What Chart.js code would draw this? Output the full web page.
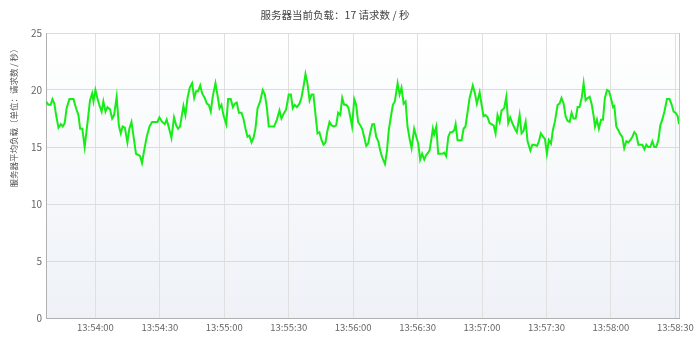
<!DOCTYPE html>
<html><head><meta charset="utf-8">
<script src="https://cdn.jsdelivr.net/npm/chart.js@4.4.1/dist/chart.umd.min.js"></script>
<style>html,body{margin:0;padding:0;background:#fff}#wrap{width:700px;height:340px}</style>
</head><body><div id="wrap"><canvas id="c" width="700" height="340"></canvas></div>
<script>
const chartTitle = '服务器当前负载：17 请求数 / 秒';
const yAxisTitle = '服务器平均负载（单位：请求数 / 秒）';
const tickSeconds = [0, 30, 60, 90, 120, 150, 180, 210, 240, 270];
const tickLabels = ['13:54:00','13:54:30','13:55:00','13:55:30','13:56:00','13:56:30','13:57:00','13:57:30','13:58:00','13:58:30'];
const yTicks = [0, 5, 10, 15, 20, 25];

// seconds relative to 13:54:00
const seconds = [
-23,-21.9,-20.8,-20,-19.1,-18.3,-17.2,-16.1,-15.2,-14.3,-13.4,-12.1,-10.2,-9,-7.9,-7.1,-6.1,-5,-3.7,-2.5,-1.5,-0.9,0,0.9,1.8,2.9,3.7,4.7,5.6,6.8,7.8,8.7,9.9,10.9,11.8,12.7,13.7,14.9,15.8,16.8,18,18.9,20,20.8,21.7,22.7,23.9,25.2,26.4,27.7,28.9,29.8,31.1,32.3,33.2,34.5,35.4,
36.6,37.6,38.5,39.4,41,41.9,42.9,43.9,45,46,46.9,47.8,48.8,49.7,50.9,51.9,52.8,53.7,54.6,55.9,56.8,57.8,58.7,59.6,60.9,61.8,63,64,64.9,65.8,66.8,68,68.9,69.9,70.8,71.7,72.7,73.6,74.5,75.5,76.7,77.9,78.9,79.8,80.7,82,83.2,84.5,85.7,86.6,87.6,88.8,90,91,91.9,92.8,93.8,95,95.9,
96.9,97.8,98.7,99.7,100.6,101.5,102.5,103.4,104.3,105.3,106.2,107.1,108.1,109,109.9,111.2,112.1,113,114,114.9,115.8,116.8,117.7,118.6,119.5,120.5,121.4,122.3,123.3,124.2,125.1,126.1,127,127.9,128.9,129.8,130.7,131.7,132.6,133.5,134.8,135.7,136.6,137.6,138.5,139.4,140.7,141.6,142.5,143.5,144.4,145.3,146.3,147.2,148.4,149.4,150.3,151.2,152.1,153.1,154,154.9,
155.6,156.5,157.1,157.7,158.7,159.6,160.5,161.5,162.4,163.3,164.3,165.2,166.1,167.1,167.7,168.6,169.5,170.5,171.4,172.3,173.3,174.2,175.7,176.7,177.6,178.9,179.8,180.7,181.6,182.6,183.5,184.4,185.4,186.3,187.2,188.2,189.1,190.3,191.3,192.2,193.1,194.1,195.3,196.2,197.5,198.4,199.3,200.3,201.2,202.5,203.4,204.3,205.6,206.5,207.4,208.4,209.3,210.2,211.1,212.1,213,213.9,215.2,
216.1,217,218,218.9,219.8,220.8,221.7,222.6,223.6,224.5,225.4,226.4,227.3,228.2,229.2,230.1,231,231.9,232.6,233.5,234.4,235.4,236.3,237.2,238.2,239.1,240,241,241.6,242.5,243.4,244.4,245.3,246.2,247.2,248.1,249,250,250.9,251.8,252.8,253.7,254.6,255.6,256.5,257.4,258.3,259.3,260.2,261.1,262.1,263,263.9,264.9,266.1,267.3,268.3,269.2,270.1,271.1,271.7
];
const load = [
19.0,18.7,18.7,19.2,18.8,17.8,16.7,17.0,16.8,17.1,18.4,19.2,19.2,18.4,17.8,16.6,16.6,15.0,17.1,19.1,19.7,19.0,20.0,19.3,18.7,18.1,19.0,18.1,18.5,18.3,17.5,17.8,19.4,16.9,16.2,16.8,16.7,15.4,16.6,17.2,15.6,14.4,14.3,14.2,13.6,14.7,15.9,16.8,17.2,17.2,17.2,17.6,17.2,17.0,17.4,16.5,15.8,
17.6,16.9,16.6,16.8,18.6,17.8,19.3,20.2,20.6,19.3,19.9,19.9,20.4,19.7,19.3,18.8,18.7,18.1,19.4,20.6,19.6,18.4,18.7,17.8,17.0,19.2,19.2,18.5,18.8,18.9,18.0,18.0,17.5,16.6,15.9,16.0,15.4,15.8,16.6,18.4,19.0,20.0,19.6,18.5,16.8,16.8,16.8,17.4,18.2,17.5,17.9,18.3,19.6,19.6,18.4,18.7,18.5,18.8,19.3,
20.3,21.4,20.6,19.1,19.6,19.6,17.8,16.2,16.3,15.6,15.2,15.4,16.5,17.2,16.9,16.8,16.9,18.0,17.8,19.3,18.7,18.7,18.5,17.7,16.8,19.2,18.7,17.2,16.9,16.6,15.9,15.1,15.3,16.2,17.0,17.0,15.9,15.5,14.7,14.1,13.5,14.6,16.5,17.7,18.7,19.0,20.6,19.6,20.2,18.8,19.0,16.8,15.7,14.9,16.6,15.9,15.3,13.9,14.4,13.9,14.3,14.5,
14.7,15.8,16.6,16.1,16.8,14.4,14.4,14.4,14.5,14.2,15.9,16.3,16.3,16.5,17.0,15.6,15.6,15.6,16.6,16.8,18.1,19.3,20.4,19.7,18.8,19.8,18.7,17.7,17.8,17.6,17.1,17.0,16.9,16.2,17.8,17.2,18.2,18.4,19.4,17.1,17.6,17.1,16.6,16.3,17.8,16.2,16.4,17.2,15.5,14.7,15.2,15.2,15.1,15.5,16.2,15.9,15.7,14.4,15.6,15.3,16.5,17.2,18.7,
18.8,19.3,18.8,17.7,17.3,17.2,18.0,17.5,17.5,18.5,18.5,19.3,20.6,19.1,19.3,19.4,18.8,17.8,16.8,17.4,16.6,17.4,17.4,19.3,20.0,19.9,19.3,18.5,18.6,16.8,16.5,16.1,15.9,14.9,15.5,15.4,15.6,15.9,16.3,16.1,15.2,15.2,15.2,14.8,15.2,15.0,15.0,15.5,15.0,15.0,15.6,16.9,17.4,18.1,19.2,19.2,18.7,18.1,18.0,17.7,17.0
];

const FONT = '"Noto Sans CJK SC", "Noto Sans", sans-serif';
Chart.defaults.font.family = FONT;

const decor = {
  id: 'decor',
  beforeDraw(chart) {
    const {ctx, chartArea: a} = chart;
    const g = ctx.createLinearGradient(0, a.top, 0, a.bottom);
    g.addColorStop(0, '#ffffff');
    g.addColorStop(1, '#eef2f7');
    ctx.save();
    ctx.fillStyle = g;
    ctx.fillRect(a.left, a.top, a.right - a.left, a.bottom - a.top);
    ctx.restore();
  },
  afterDraw(chart) {
    const {ctx, chartArea: a} = chart;
    ctx.save();
    ctx.strokeStyle = '#c8c8c8';
    ctx.lineWidth = 1;
    ctx.beginPath();
    ctx.moveTo(Math.round(a.right) + 0.5, a.top);
    ctx.lineTo(Math.round(a.right) + 0.5, a.bottom);
    ctx.stroke();
    ctx.fillStyle = '#444';
    ctx.font = '10.5px ' + FONT;
    ctx.textAlign = 'center';
    ctx.textBaseline = 'middle';
    ctx.fillText(chartTitle, 335, 15);
    ctx.translate(14, 116);
    ctx.rotate(-Math.PI / 2);
    ctx.fillStyle = '#555';
    ctx.font = '8.5px ' + FONT;
    ctx.fillText(yAxisTitle, 0, 0);
    ctx.restore();
  }
};

new Chart(document.getElementById('c'), {
  type: 'line',
  data: {
    datasets: [{
      data: seconds.map((s, i) => ({x: s, y: load[i]})),
      borderColor: '#16ec16',
      borderWidth: 2,
      pointRadius: 0,
      tension: 0,
      fill: false
    }]
  },
  options: {
    responsive: false,
    animation: false,
    events: [],
    layout: {padding: {top: 33, right: 21, left: 0, bottom: 0}},
    plugins: {legend: {display: false}, title: {display: false}, tooltip: {enabled: false}},
    scales: {
      x: {
        type: 'linear',
        min: -23,
        max: 271.7,
        afterBuildTicks: s => { s.ticks = tickSeconds.map(v => ({value: v})); },
        afterFit: s => { s.height = 22; },
        ticks: {
          callback: v => tickLabels[tickSeconds.indexOf(v)],
          color: '#666',
          font: {size: 9.5},
          padding: 4,
          maxRotation: 0,
          autoSkip: false
        },
        grid: {color: '#e0e0e0', drawTicks: false},
        border: {color: '#b0b0b0'}
      },
      y: {
        min: 0,
        max: 25,
        afterBuildTicks: s => { s.ticks = yTicks.map(v => ({value: v})); },
        afterFit: s => { s.width = 46; },
        ticks: {color: '#666', font: {size: 10}, padding: 4},
        grid: {color: '#dcdcdc', drawTicks: false},
        border: {color: '#b0b0b0'}
      }
    }
  },
  plugins: [decor]
});
</script>
</body></html>
